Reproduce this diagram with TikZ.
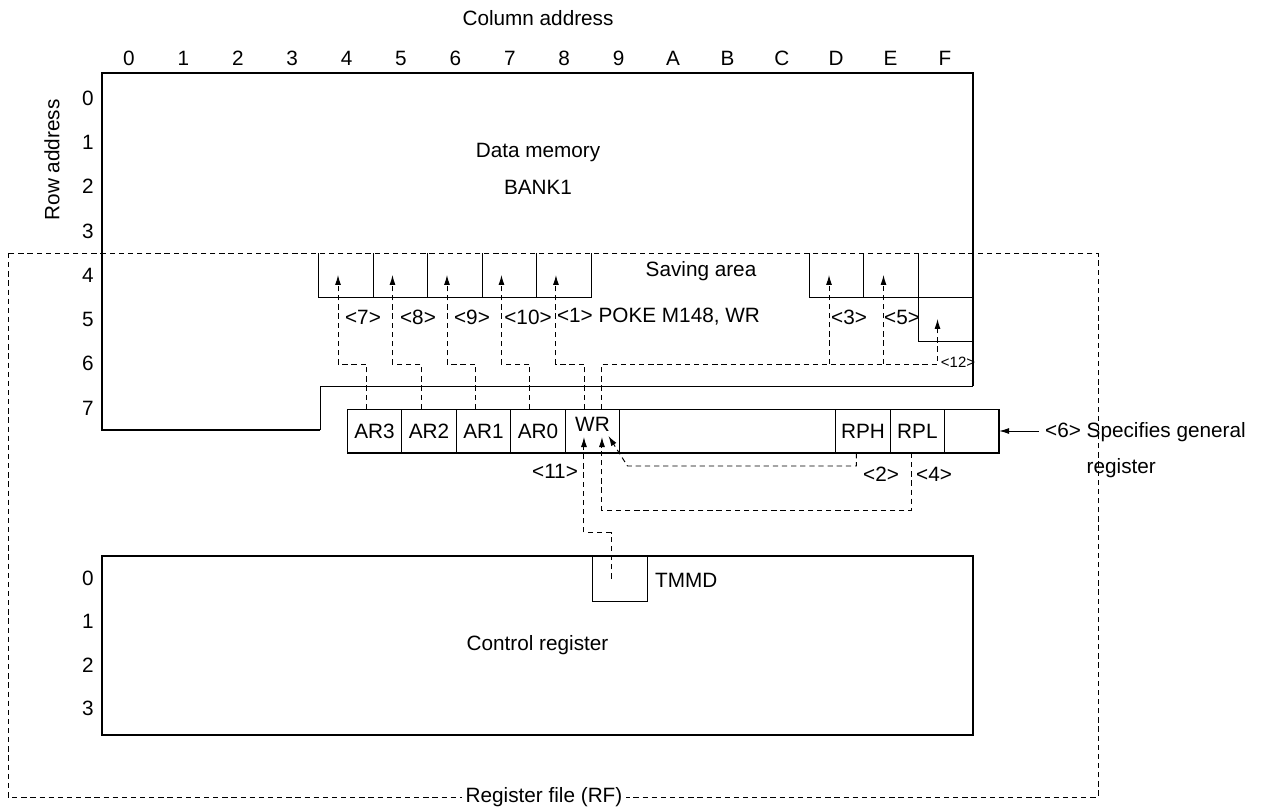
\documentclass[tikz,border=0pt]{standalone}
\usepackage{fontspec}
\setmainfont{Liberation Sans}
\usetikzlibrary{arrows.meta, positioning, calc}

\begin{document}
\begin{tikzpicture}[
        x = 0.02cm, y = -0.02cm,
        >= {Latex[length = 0.2cm, width = 0.12cm]},
        font = \fontsize{11.8}{14}\selectfont,
        heavy/.style = {line width = 1.4pt},
        light/.style = {line width = 0.55pt},
        dashline/.style = {line width = 0.55pt, dash pattern = on 3pt off 2.2pt},
        cell/.style = {minimum width = 1.09cm, minimum height = 0.88cm, inner sep = 0pt, outer sep = 0pt},
        reg/.style = {cell, draw, light},
        smalllbl/.style = {font = \fontsize{8.5}{10}\selectfont}
    ]
  \useasboundingbox (0,0) rectangle (1266,807);

  % headings
  \node (coltitle) at (538,18) {Column address};
  \node[rotate = 90] (rowtitle) at (52,160) {Row address};
  \foreach \c [count = \i from 0] in {0,1,2,3,4,5,6,7,8,9,A,B,C,D,E,F}
    \node (col\c) at (129+54.4*\i, 58) {\c};
  \foreach \r in {0,...,7}
    \node (brow\r) at (88, 98+44.3*\r) {\r};
  \foreach \r in {0,...,3}
    \node (crow\r) at (88, 578+43.4*\r) {\r};

  % data memory bank 1
  \draw[heavy] (320,430) -- (102,430) -- (102,73) -- (973,73) -- (973,386);
  \draw[light] (973,386) -- (320,386) -- (320,430);
  \node (dm) at (538,153) {Data memory};
  \node (bank) at (538,187) {BANK1};

  % saving area
  \node[cell] (s4) at (346,275) {};
  \node[cell, right = 0pt of s4] (s5) {};
  \node[cell, right = 0pt of s5] (s6) {};
  \node[cell, right = 0pt of s6] (s7) {};
  \node[cell, right = 0pt of s7] (s8) {};
  \node[cell] (sd) at (836.5,275) {};
  \node[cell, right = 0pt of sd] (se) {};
  \node[cell] (f4) at (945.5,275) {};
  \node[cell, below = 0pt of f4] (f5) {};
  \draw[light] (s4.north west) |- (s8.south east) -- (s8.north east);
  \foreach \c in {4,...,7}
    \draw[light] (s\c.north east) -- (s\c.south east);
  \draw[light] (sd.north west) |- (se.south east);
  \draw[light] (sd.north east) -- (sd.south east);
  \draw[light] (f4.north west) |- (f5.south east);
  \draw[light] (f4.south west) -- (f4.south east);
  \node (savlbl) at (701,271) {Saving area};

  % general registers
  \node[reg] (ar3) at (374.5,431) {AR3};
  \node[reg, right = 0pt of ar3] (ar2) {AR2};
  \node[reg, right = 0pt of ar2] (ar1) {AR1};
  \node[reg, right = 0pt of ar1] (ar0) {AR0};
  \node[reg, right = 0pt of ar0] (wr) {};
  \node[reg, right = 0pt of wr, minimum width = 4.32cm] (gap) {};
  \node[reg, right = 0pt of gap] (rph) {RPH};
  \node[reg, right = 0pt of rph] (rpl) {RPL};
  \node[reg, right = 0pt of rpl] (rend) {};
  \node (wrname) at ($(wr.center)+(0,-7)$) {WR};
  \draw[heavy] (ar3.south west) -- (rend.south east) -- (rend.north east);
  \node[anchor = west, align = left, font = \fontsize{11.8}{20.5}\selectfont] (spec) at (1039,450)
    {<6> Specifies general\\\hphantom{<6> }register};
  \draw[light, ->] (rend.east -| spec.west) -- (rend.east);

  % control register
  \node[draw, heavy, minimum width = 17.42cm, minimum height = 3.58cm] (ctrl) at (537.5,645.5) {Control register};
  \node[reg, anchor = north, minimum height = 0.9cm] (tmmd) at (620,556) {};
  \node[anchor = west] (tmmdlbl) at (649,580) {TMMD};

  % register file
  \draw[dashline] (8,253) rectangle (1098,797);
  \node[fill = white, inner sep = 2pt] (rf) at (544,797) {Register file (RF)};

  % saving transfers
  \foreach \r/\s in {ar3/s4, ar2/s5, ar1/s6, ar0/s7, wr/s8}
    \draw[dashline, ->] ($(\r.north)+(-8,0)$) -- ++(0,-45) -| ($(\s.center)+(-8,0)$);
  \coordinate (bus) at ($(wr.north)+(9.5,-45)$);
  \draw[dashline, ->] ($(wr.north)+(9.5,0)$) -- (bus) -| ($(f5.center)+(-8,0)$);
  \foreach \s in {sd, se} {
    \coordinate (\s-tip) at ($(\s.center)+(-7.5,0)$);
    \draw[dashline, ->] (bus -| \s-tip) -- (\s-tip);
  }

  % transfers into WR
  \draw[dashline, ->] ($(rph.south)+(-6.5,0)$) |- ($(wr.center)+(35,35)$) -- ($(wr.center)+(16,5)$);
  \draw[dashline, ->] ($(rpl.south)+(-6,0)$) -- ++(0,57) -| ($(wr.center)+(9.5,6)$);
  \draw[dashline, ->] ($(tmmd.center)+(-9,0)$) -- ++(0,-46) -| ($(wr.center)+(-8.5,6)$);

  % step numbers
  \foreach \t/\x in {7/363, 8/418, 9/472, 10/528}
    \node (n\t) at (\x,317) {<\t>};
  \node (n1) at (658.5,317) {<1> POKE M148, WR};
  \node (n3) at (849,317) {<3>};
  \node (n5) at (902,317) {<5>};
  \node[smalllbl] (n12) at (958,362) {<12>};
  \node (n11) at (555,471) {<11>};
  \node (n2) at (881,474) {<2>};
  \node (n4) at (934,474) {<4>};
\end{tikzpicture}
\end{document}
